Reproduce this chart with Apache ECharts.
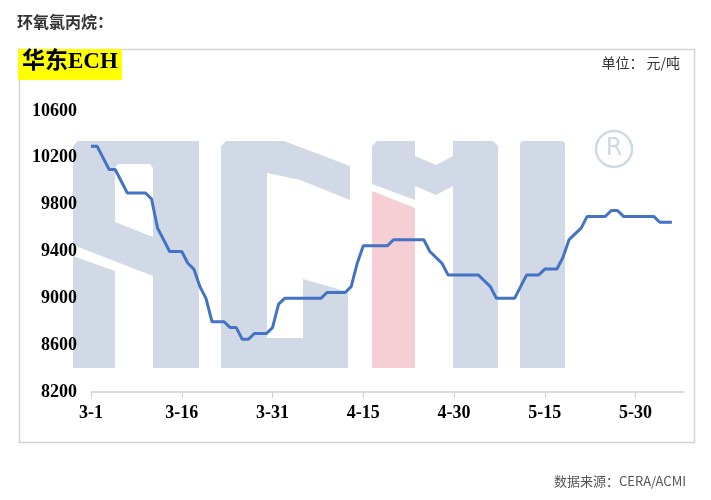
<!DOCTYPE html>
<html><head><meta charset="utf-8">
<script src="https://cdn.jsdelivr.net/npm/echarts@6/dist/echarts.min.js"></script>
<style>html,body{margin:0;padding:0;background:#fff;}#c{width:711px;height:500px;}</style>
</head><body><div id="c"></div>
<script>
const categories = [
 '3-1','3-2','3-3','3-4','3-5','3-6','3-7','3-8','3-9','3-10','3-11','3-12','3-13','3-14','3-15','3-16','3-17','3-18','3-19','3-20','3-21','3-22','3-23','3-24','3-25','3-26','3-27','3-28','3-29','3-30','3-31',
 '4-1','4-2','4-3','4-4','4-5','4-6','4-7','4-8','4-9','4-10','4-11','4-12','4-13','4-14','4-15','4-16','4-17','4-18','4-19','4-20','4-21','4-22','4-23','4-24','4-25','4-26','4-27','4-28','4-29','4-30',
 '5-1','5-2','5-3','5-4','5-5','5-6','5-7','5-8','5-9','5-10','5-11','5-12','5-13','5-14','5-15','5-16','5-17','5-18','5-19','5-20','5-21','5-22','5-23','5-24','5-25','5-26','5-27','5-28','5-29','5-30',
 '5-31','6-1','6-2','6-3','6-4','6-5','6-6','6-7'
];
const prices = [
 10300,10300,10200,10100,10100,10000,9900,9900,9900,9900,9850,9600,9500,9400,9400,9400,9300,9250,9100,9000,
 8800,8800,8800,8750,8750,8650,8650,8700,8700,8700,8750,8950,9000,9000,9000,9000,9000,9000,9000,9050,
 9050,9050,9050,9100,9300,9450,9450,9450,9450,9450,9500,9500,9500,9500,9500,9500,9400,9350,9300,9200,
 9200,9200,9200,9200,9200,9150,9100,9000,9000,9000,9000,9100,9200,9200,9200,9250,9250,9250,9350,9500,
 9550,9600,9700,9700,9700,9700,9750,9750,9700,9700,9700,9700,9700,9700,9650,9650,9650
];
const yTicks = { min: 8200, max: 10600, interval: 400 };

const wm = '#d0d9e5', pink = '#f5cfd3';
const chart = echarts.init(document.getElementById('c'), null, {renderer: 'canvas'});
chart.setOption({
  backgroundColor: '#fff',
  animation: false,
  grid: { left: 91, right: 27, top: 111, bottom: 108, containLabel: false },
  graphic: [
    { type: 'rect', left: 17, top: 47, shape: { width: 675, height: 393 }, style: { fill: 'none', stroke: '#d4d4d4', lineWidth: 1.5 }, z: 0 },
    { type: 'text', left: 17, top: 14, style: { text: '环氧氯丙烷：', font: 'bold 16px "Noto Sans CJK SC", sans-serif', fill: '#333' } },
    { type: 'rect', left: 18, top: 49, shape: { width: 104, height: 31 }, style: { fill: '#ffff00' } },
    { type: 'text', left: 22, top: 51, style: { text: '华东ECH', font: 'bold 23px "Liberation Serif", "Noto Sans CJK SC", serif', fill: '#000' } },
    { type: 'text', right: 31, top: 56, style: { text: '单位： 元/吨', font: '14px "Noto Sans CJK SC", sans-serif', fill: '#333' } },
    { type: 'text', right: 25, top: 475, style: { text: '数据来源：CERA/ACMI', font: '13px "Noto Sans CJK SC", sans-serif', fill: '#555' } },
    // watermark "A"
    { type: 'polygon', z: 0, shape: { points: [[73,146],[78,141],[199,141],[199,368],[153,368],[153,276],[73,245]] }, style: { fill: wm } },
    { type: 'polygon', z: 0, shape: { points: [[73,256],[115,271],[115,368],[73,368]] }, style: { fill: wm } },
    { type: 'polygon', z: 0, shape: { points: [[115,168],[118,164],[150,164],[153,168],[153,237],[115,222]] }, style: { fill: '#fff' } },
    // watermark "C"
    { type: 'polygon', z: 0, shape: { points: [[221,146],[226,141],[284,141],[350,166],[350,200],[300,180],[267,173],[267,338],[303,338],[303,279],[348,292],[348,368],[221,368]] }, style: { fill: wm } },
    // watermark "M"
    { type: 'polygon', z: 0, shape: { points: [[372,146],[377,141],[415,141],[415,200],[372,184]] }, style: { fill: wm } },
    { type: 'polygon', z: 0, shape: { points: [[372,191],[415,208],[415,368],[372,368]] }, style: { fill: pink } },
    { type: 'polygon', z: 0, shape: { points: [[415,156],[436,165],[453,156],[453,186],[436,195],[415,186]] }, style: { fill: wm } },
    { type: 'polygon', z: 0, shape: { points: [[453,141],[493,141],[498,146],[498,368],[453,368]] }, style: { fill: wm } },
    // watermark "I"
    { type: 'rect', z: 0, shape: { x: 520, y: 141, width: 45, height: 227, r: [4,4,0,0] }, style: { fill: wm } },
    // registered mark
    { type: 'circle', z: 0, shape: { cx: 614, cy: 149, r: 18 }, style: { fill: 'none', stroke: wm, lineWidth: 2.5 } },
    { type: 'text', z: 0, x: 614, y: 149, style: { text: 'R', font: '24px "DejaVu Sans", sans-serif', fill: wm, align: 'center', verticalAlign: 'middle' } }
  ],
  xAxis: {
    type: 'category', data: categories, boundaryGap: false,
    axisLine: { lineStyle: { color: '#d0d0d0', width: 1.5 } },
    axisTick: { show: true, interval: 14, length: 6, lineStyle: { color: '#d0d0d0' } },
    axisLabel: { interval: 14, margin: 12, color: '#000', fontFamily: '"Liberation Serif", serif', fontWeight: 'bold', fontSize: 18 },
    splitLine: { show: false }
  },
  yAxis: {
    type: 'value', min: yTicks.min, max: yTicks.max, interval: yTicks.interval,
    axisLine: { show: false }, axisTick: { show: false }, splitLine: { show: false },
    axisLabel: { margin: 14, color: '#000', fontFamily: '"Liberation Serif", serif', fontWeight: 'bold', fontSize: 18,
      formatter: function (v) { return String(v); } }
  },
  series: [{
    type: 'line', data: prices, symbol: 'none', z: 5,
    lineStyle: { color: '#4472c4', width: 3 }
  }]
});
</script></body></html>
